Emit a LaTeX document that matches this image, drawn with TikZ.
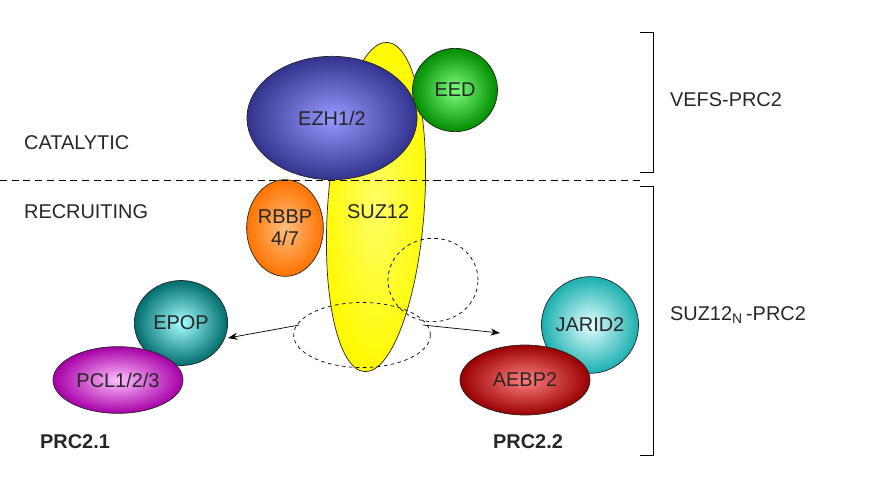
\documentclass[tikz,border=0pt]{standalone}
\usepackage{fontspec}
\setmainfont{Liberation Sans}
\usetikzlibrary{shapes.geometric,arrows.meta,calc}
\tikzset{
	blob/.style args={#1/#2}{ellipse, draw=black!85, semithick, inner color=#1, outer color=#2, inner sep=0pt},
	dashring/.style={ellipse, draw=black, dashed, semithick, inner sep=0pt},
	lab/.style={font=\fontsize{17}{19}\selectfont, text=black!85},
	conn/.style={-{Stealth[length=8pt]}, semithick}
}
\begin{document}
\begin{tikzpicture}[x=0.03cm,y=-0.03cm]
	\useasboundingbox (0,0) rectangle (876,495);
	% core complex
	\node[blob=yellow!60!white/yellow!95!orange, rotate=-4,
		minimum width=2.9cm, minimum height=9.9cm] (suz) at (376,207) {};
	\node[lab, anchor=west] at (343,212) {SUZ12};
	\node[blob=blue!40!white/blue!45!black!80!white, minimum width=5.1cm, minimum height=3.7cm, lab] (ezh) at (332,118) {EZH1/2};
	\node[blob=green!50!white/green!55!black, minimum width=2.55cm, minimum height=2.5cm, lab] (eed) at (455,90) {EED};
	\node[blob=orange!50!white/orange!90!red, minimum width=2.3cm, minimum height=2.9cm, lab, align=center] (rbbp) at (285,228) {RBBP\\4/7};
	% dashed binding sites
	\node[dashring, minimum width=2.7cm, minimum height=2.5cm] (site2) at (433,280) {};
	\node[dashring, minimum width=4.1cm, minimum height=1.95cm] (site1) at (362,335) {};
	% accessory subunits
	\node[blob=cyan!35!white/teal!85!black, minimum width=2.8cm, minimum height=2.55cm, lab] (epop) at (181,323) {EPOP};
	\node[blob=magenta!25!white/violet!70!magenta, minimum width=3.9cm, minimum height=2cm, lab] (pcl) at (118,380) {PCL1/2/3};
	\node[blob=cyan!10!white/cyan!65!black!90!white, minimum width=2.6cm, minimum height=2.9cm, lab] (jarid) at (590,325) {JARID2};
	\node[blob=red!50!white/red!60!black, minimum width=3.9cm, minimum height=2.1cm, lab] (aebp) at (525,380) {AEBP2};
	\draw[conn] (site1.west) ++(6,-10) coordinate (a1) -- (epop.east |- 0,338) coordinate (e1);
	\draw[conn] (site1.east) ++(-8,-10) coordinate (a2) -- (500,333) coordinate (e2);
	% layers
	\draw[dashed, semithick, dash pattern=on 6pt off 4pt] (0,180) -- (640,180);
	\node[lab, anchor=west] (cat) at (20,143) {CATALYTIC};
	\node[lab, anchor=west] (rec) at (20,212) {RECRUITING};
	\node[lab, font=\fontsize{17}{19}\selectfont\bfseries] (p21) at (75,442) {PRC2.1};
	\node[lab, font=\fontsize{17}{19}\selectfont\bfseries] (p22) at (528,442) {PRC2.2};
	% brackets
	\draw[semithick] (640,32) -- (653,32) -- (653,172) -- (640,172);
	\draw[semithick] (640,186) -- (653,186) -- (653,455) -- (640,455);
	\node[lab, anchor=west] (vefs) at (666,100) {VEFS-PRC2};
	\node[lab, anchor=west] (suzn) at (666,315) {SUZ12$_{\mathrm{N}}$\,-PRC2};
\end{tikzpicture}
\end{document}
